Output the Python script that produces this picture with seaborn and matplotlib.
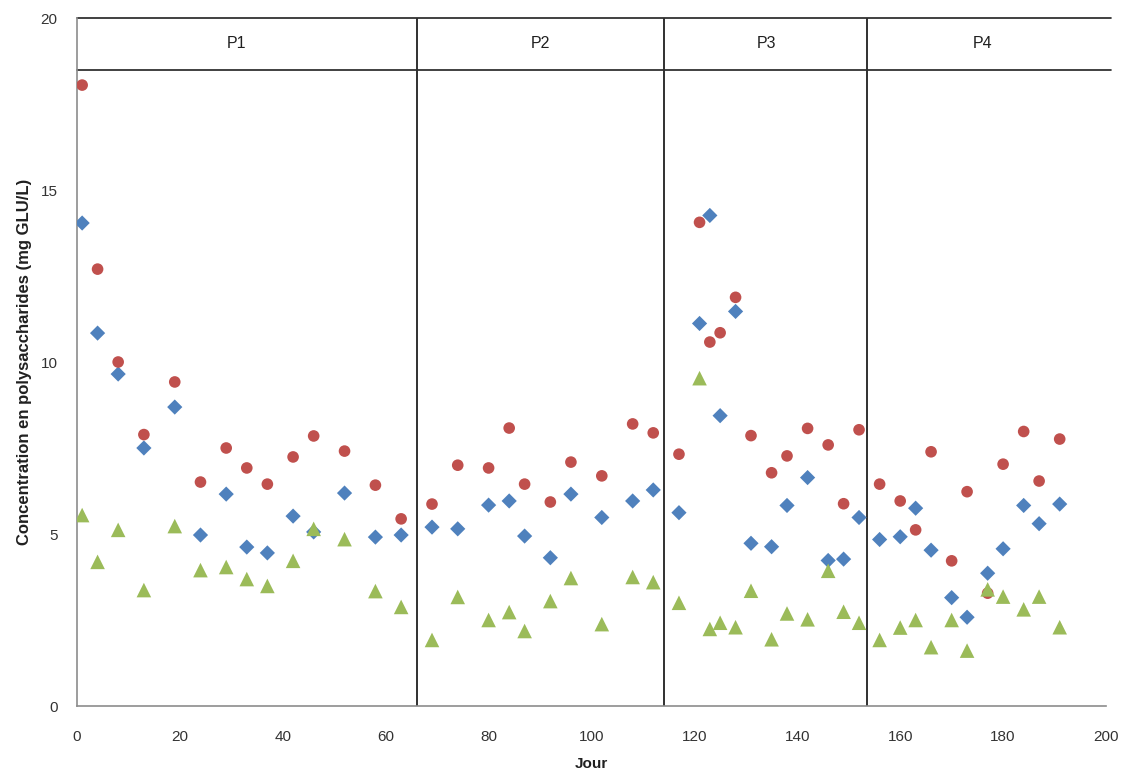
import matplotlib
matplotlib.use("Agg")
import matplotlib.pyplot as plt
import seaborn as sns
import pandas as pd

# ---- data ----
days = [1, 4, 8, 13, 19, 24, 29, 33, 37, 42, 46, 52, 58, 63,
        69, 74, 80, 84, 87, 92, 96, 102, 108, 112,
        117, 121, 123, 125, 128, 131, 135, 138, 142, 146, 149, 152,
        156, 160, 163, 166, 170, 173, 177, 180, 184, 187, 191]

serie_bleue = [14.04, 10.84, 9.65, 7.5, 8.69, 4.97, 6.16, 4.62, 4.45, 5.52, 5.06, 6.19, 4.91, 4.97,
               5.2, 5.15, 5.84, 5.96, 4.94, 4.31, 6.16, 5.48, 5.96, 6.28,
               5.62, 11.12, 14.26, 8.44, 11.47, 4.73, 4.63, 5.83, 6.64, 4.23, 4.27, 5.48,
               4.84, 4.92, 5.75, 4.53, 3.15, 2.58, 3.86, 4.57, 5.83, 5.3, 5.87]

serie_rouge = [18.05, 12.7, 10.0, 7.89, 9.42, 6.51, 7.5, 6.92, 6.45, 7.24, 7.85, 7.41, 6.42, 5.44,
               5.87, 7.0, 6.92, 8.08, 6.45, 5.93, 7.09, 6.69, 8.2, 7.94,
               7.32, 14.06, 10.58, 10.85, 11.88, 7.86, 6.78, 7.27, 8.07, 7.59, 5.88, 8.03,
               6.45, 5.96, 5.12, 7.39, 4.22, 6.23, 3.28, 7.03, 7.98, 6.54, 7.76]

serie_verte = [5.55, 4.19, 5.12, 3.37, 5.23, 3.95, 4.04, 3.69, 3.49, 4.22, 5.15, 4.85, 3.34, 2.88,
               1.92, 3.17, 2.5, 2.73, 2.18, 3.05, 3.72, 2.38, 3.75, 3.6,
               3.0, 9.53, 2.24, 2.42, 2.29, 3.35, 1.94, 2.69, 2.52, 3.93, 2.74, 2.42,
               1.92, 2.28, 2.5, 1.71, 2.5, 1.61, 3.39, 3.18, 2.81, 3.18, 2.29]

series_names = ["Série 1", "Série 2", "Série 3"]

period_labels = ["P1", "P2", "P3", "P4"]
period_label_pos = [31, 90, 134, 176]
period_bounds = [66, 114, 153.5]
band_y = 18.5

x_ticks = [0, 20, 40, 60, 80, 100, 120, 140, 160, 180, 200]
y_ticks = [0, 5, 10, 15, 20]

# ---- build long table ----
df = pd.DataFrame({
    "Jour": days * 3,
    "valeur": serie_bleue + serie_rouge + serie_verte,
    "serie": [series_names[0]] * len(days) + [series_names[1]] * len(days) + [series_names[2]] * len(days),
})

sns.set_theme(style="white")
plt.rcParams["font.family"] = ["Liberation Sans", "DejaVu Sans"]

fig = plt.figure(figsize=(11.34, 7.74), dpi=100)
ax = fig.add_axes([77 / 1134, 1 - 706 / 774, (1106 - 77) / 1134, (706 - 18) / 774])

palette = {series_names[0]: "#4F81BD", series_names[1]: "#C0504D", series_names[2]: "#9BBB59"}
markers = {series_names[0]: "D", series_names[1]: "o", series_names[2]: "^"}
sizes_map = {series_names[0]: 60, series_names[1]: 70, series_names[2]: 110}

for name in series_names:
    sub = df[df["serie"] == name]
    sns.scatterplot(data=sub, x="Jour", y="valeur", color=palette[name], marker=markers[name],
                    s=sizes_map[name], edgecolor="none", linewidth=0, ax=ax, legend=False, zorder=3)

ax.set_xlim(0, 200)
ax.set_ylim(0, 20)
ax.set_xticks(x_ticks)
ax.set_yticks(y_ticks)
ax.tick_params(axis="both", length=0, labelsize=11, colors="#333333")
ax.tick_params(axis="x", pad=17)
ax.tick_params(axis="y", pad=14)

for side in ["left", "bottom"]:
    ax.spines[side].set_color("#8c8c8c")
    ax.spines[side].set_linewidth(1.2)
ax.spines["right"].set_visible(False)
ax.spines["top"].set_visible(False)

ax.axhline(20, xmin=0, xmax=1.005, color="#202020", linewidth=1.2, zorder=2, clip_on=False)
ax.axhline(band_y, xmin=0, xmax=1.005, color="#202020", linewidth=1.2, zorder=2, clip_on=False)
for b in period_bounds:
    ax.axvline(b, color="#303030", linewidth=1.4, zorder=2)

for lab, xp in zip(period_labels, period_label_pos):
    ax.text(xp, (band_y + 20) / 2, lab, ha="center", va="center", fontsize=11.5, color="#202020")

ax.set_xlabel("Jour", fontsize=11, fontweight="bold", labelpad=10, color="#202020")
ax.set_ylabel("Concentration en polysaccharides (mg GLU/L)", fontsize=12, fontweight="bold",
              labelpad=6, color="#202020")

fig.savefig("out.png", dpi=100)
